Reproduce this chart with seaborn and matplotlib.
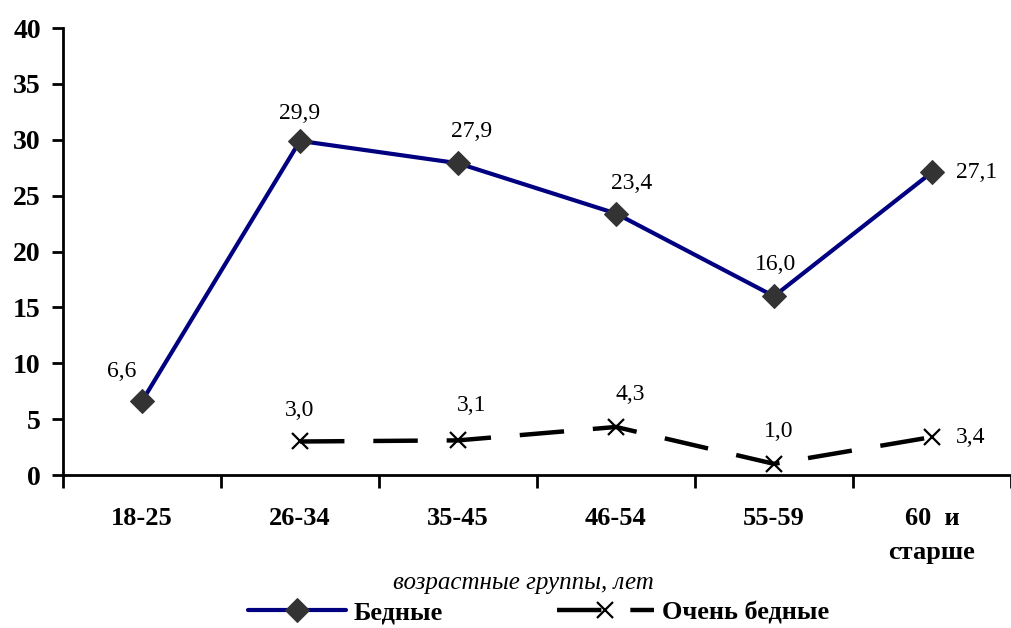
import numpy as np
import pandas as pd
import seaborn as sns
import matplotlib.pyplot as plt

categories = ['18-25', '26-34', '35-45', '46-54', '55-59', '60  и\nстарше']
poor = [6.6, 29.9, 27.9, 23.4, 16.0, 27.1]
very_poor = [np.nan, 3.0, 3.1, 4.3, 1.0, 3.4]
series_names = ['Бедные', 'Очень бедные']

sns.set_style('ticks')
plt.rcParams['font.family'] = ['Liberation Serif', 'DejaVu Serif']
plt.rcParams['text.color'] = 'black'
plt.rcParams['xtick.color'] = 'black'
plt.rcParams['ytick.color'] = 'black'
plt.rcParams['axes.edgecolor'] = 'black'

df = pd.DataFrame({'pos': np.arange(len(categories)), 'poor': poor, 'very_poor': very_poor})

fig = plt.figure(figsize=(10.11, 6.28), dpi=100)
ax = fig.add_axes([0.0623, 0.2436, 0.9377, 0.7118])

sns.lineplot(data=df, x='pos', y='poor', ax=ax, color='#000080', linewidth=3,
             marker='D', markersize=12, markerfacecolor='#333333',
             markeredgecolor='#333333', label=series_names[0], zorder=3)
sns.lineplot(data=df.dropna(), x='pos', y='very_poor', ax=ax, color='black', linewidth=3.2,
             dashes=(10, 6.5), marker='x', markersize=12, markeredgewidth=1.6,
             markeredgecolor='black', label=series_names[1], zorder=3)

# data labels
poor_off = [(-20, 30, 'center'), (0, 27, 'center'), (14, 32, 'center'), (16, 30, 'center'),
            (2, 32, 'center'), (24, 0, 'left')]
vp_off = [None, (0, 31, 'center'), (14, 35, 'center'), (14, 32, 'center'),
          (5, 32, 'center'), (24, 0, 'left')]
for i in range(len(categories)):
    dx, dy, ha = poor_off[i]
    ax.annotate(f'{poor[i]:.1f}'.replace('.', ','), (i, poor[i]), xytext=(dx, dy),
                textcoords='offset pixels', ha=ha, va='center', fontsize=17)
    if not np.isnan(very_poor[i]):
        dx, dy, ha = vp_off[i]
        ax.annotate(f'{very_poor[i]:.1f}'.replace('.', ','), (i, very_poor[i]), xytext=(dx, dy),
                    textcoords='offset pixels', ha=ha, va='center', fontsize=17)

ax.set_xlim(-0.5, len(categories) - 0.5)
ax.set_ylim(0, 40)
ax.set_yticks(range(0, 41, 5))
ax.set_yticklabels([str(v) for v in range(0, 41, 5)], fontsize=20, fontweight='bold')
ax.set_xticks(np.arange(-0.5, len(categories), 1.0))
ax.set_xticklabels([])
ax.set_xticks(np.arange(len(categories)), minor=True)
ax.set_xticklabels(categories, minor=True, fontsize=19, fontweight='bold', linespacing=1.6, va='top')
ax.tick_params(axis='x', which='minor', length=0, pad=23)
ax.tick_params(axis='x', which='major', length=9, width=2, direction='out')
ax.tick_params(axis='y', length=8, width=2, direction='out', pad=8)
for s in ['top', 'right']:
    ax.spines[s].set_visible(False)
for s in ['left', 'bottom']:
    ax.spines[s].set_linewidth(2)
ax.set_xlabel('')
ax.set_ylabel('')

fig.text(0.518, 0.072, 'возрастные группы, лет', ha='center', va='center',
         fontsize=18, style='italic')

ax.legend(loc='center', bbox_to_anchor=(0.533, 0.024), bbox_transform=fig.transFigure,
          ncol=2, frameon=False, handlelength=3.7, handletextpad=0.3, columnspacing=4.3,
          prop={'size': 19, 'weight': 'bold'})

fig.savefig('out.png', dpi=100)
